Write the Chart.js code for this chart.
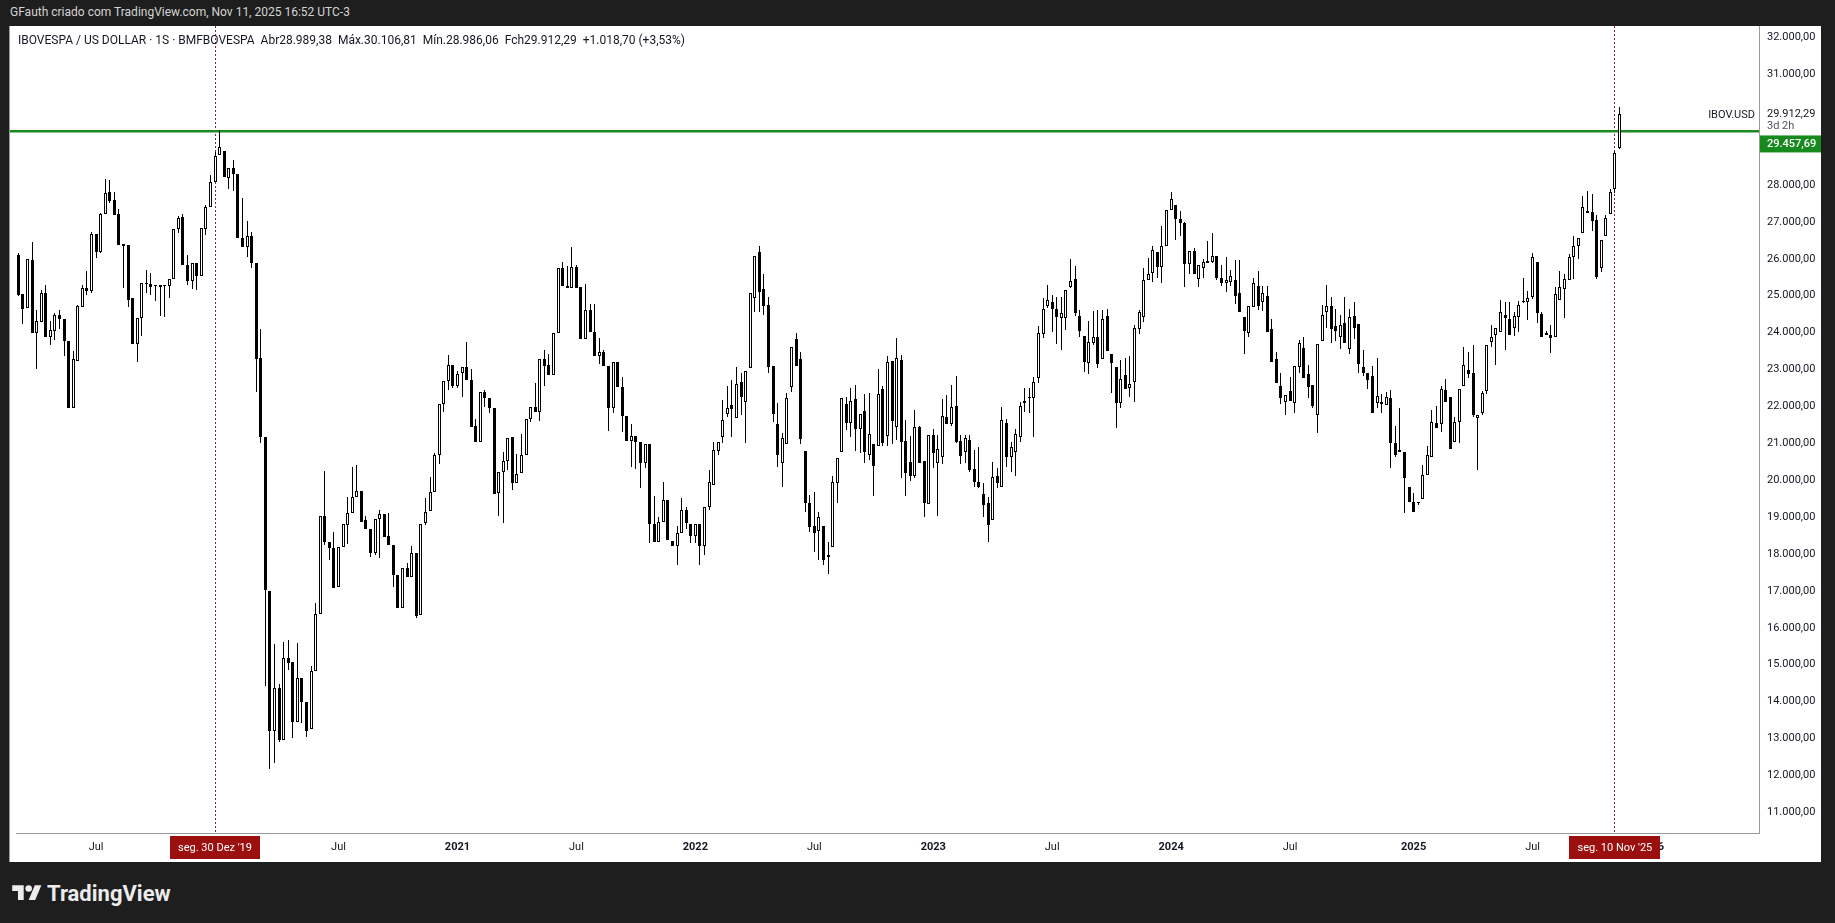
<!DOCTYPE html>
<html><head><meta charset="utf-8">
<script src="https://cdn.jsdelivr.net/npm/chart.js@4.4.1/dist/chart.umd.min.js"></script>
<style>
html,body{margin:0;padding:0;background:#1e1e1e;width:1835px;height:923px;overflow:hidden;font-family:Roboto,"Liberation Sans",sans-serif;}
#top{position:absolute;left:10px;top:5px;color:#d4d4d4;font-size:12px;white-space:pre;}
#wrap{position:absolute;left:9px;top:26px;width:1811px;height:836px;background:#fff;border-left:1px solid #9a9a9a;}
#hdr{position:absolute;left:18px;top:33px;font-size:12px;color:#131722;white-space:pre;}
#logo{position:absolute;left:12px;top:881px;height:24px;display:flex;align-items:center;color:#ececec;font-weight:bold;font-size:22px;}
#logo svg{margin-right:5px;}
canvas{display:block;}
</style></head>
<body>
<div id="top">GFauth criado com TradingView.com, Nov 11, 2025 16:52 UTC-3</div>
<div id="wrap"><canvas id="c" width="1811" height="836"></canvas></div>
<div id="hdr">IBOVESPA / US DOLLAR · 1S · BMFBOVESPA  Abr28.989,38  Máx.30.106,81  Mín.28.986,06  Fch29.912,29  +1.018,70 (+3,53%)</div>
<div id="logo"><svg width="30" height="23" viewBox="0 0 36 28"><path d="M14 22H7V11H0V4h14v18z" fill="#ececec"/><circle cx="20" cy="8" r="4" fill="#ececec"/><path d="M28 22h-8l7.5-18h8L28 22z" fill="#ececec"/></svg>TradingView</div>
<script>
// ---- data (weekly candles from 2019-03-04 to 2025-11-10) ----
const firstWeek = '2019-03-04';
const totalWeeks = 381; // includes empty future weeks on the right
const opens = [
26103,25046,24657,25967,23980,24296,25064,23890,24052,24477,
24359,23772,21947,23239,24703,25217,25136,26663,26193,27205,
27801,27593,27214,26401,26365,24928,23682,24386,25335,25308,
25290,25226,25272,25262,25443,26798,27126,25843,25404,25888,
25539,26811,27396,28072,28804,28928,28196,28466,28308,26563,
26316,26608,25888,23299,21160,16994,13211,14371,12964,15193,
15069,13448,14652,13977,13245,14821,16364,19043,18334,18176,
17097,18181,18777,19102,19536,19708,18922,18669,18036,18940,
19084,18488,18244,17431,16528,17612,17386,18018,16338,18831,
19174,19690,20683,22056,22697,23122,22562,22896,23059,22715,
21469,21044,22381,22219,21966,19645,20214,20530,21162,19915,
20187,20683,21650,21993,21840,23276,23122,22851,23998,25742,
25272,25200,25769,25227,23827,24604,24025,23366,23465,23095,
21948,23194,22517,21749,21063,21207,21027,20457,20973,18813,
18335,18877,19464,18354,18217,18560,19193,18804,18488,18804,
18217,19283,19870,20792,21180,21785,22038,21677,22652,22128,
23032,24929,26193,25173,24748,23095,21523,20474,20981,22517,
23818,23276,20791,19373,18768,18623,18759,17973,18181,19915,
20774,22065,21541,22192,21379,21875,20683,20973,20936,22472,
21207,23230,21451,23258,21063,20484,20123,21451,20521,19355,
21225,20475,20620,21722,21514,22011,21063,20774,21090,20304,
19943,19627,19373,18922,20114,19825,21541,20620,20773,21180,
22147,22237,22219,22761,23953,24730,24838,24630,24405,24387,
25245,25443,24450,23908,23185,23727,23872,23276,24450,23411,
23059,22083,22851,22490,22670,24089,24432,25425,25624,26193,
25769,26347,27322,27458,27069,26961,25859,26211,25453,25742,
25940,25922,26076,25489,25353,25380,25425,25064,24432,23980,
24703,25263,24838,24992,24089,23276,22553,22110,22426,22101,
23059,23574,22878,22580,21767,23772,24549,24721,24179,23890,
24251,23556,24450,24233,23059,22914,22824,22083,22065,22038,
22237,21017,20810,20773,19807,19418,19373,19482,20141,20620,
21559,21514,22445,22264,21044,21568,22562,22986,22914,21677,
21830,22426,23754,23935,24025,24477,24360,24116,24432,24820,
24820,24974,25922,24504,23935,23935,23890,24883,25173,25425,
26058,26347,26708,27305,27277,27052,25742,26627,27205,27892,28989.38];
const highs = [
26166,25046,25985,26464,24612,25154,25290,24314,24540,24612,
24359,23772,23501,24748,25290,25678,26735,26663,27232,28153,
28135,27801,27340,26401,26365,24928,24386,25335,25696,25606,
25290,25290,25290,25443,26798,27160,27205,26113,25888,25888,
26845,27453,28275,28894,29480,28928,28466,28669,28308,27655,
27014,26721,25888,24087,21160,16994,15553,14484,15609,15666,
15069,15576,14652,13977,14968,16679,19043,20259,18334,18606,
18181,18813,19536,20367,20412,19708,19030,18669,18940,19193,
19084,19120,18244,17431,17612,17765,18217,18018,18813,19509,
20096,20728,22056,22697,23393,23122,22968,23059,23754,23004,
21650,22381,22444,22219,21966,20214,20755,21135,21162,20701,
21243,21650,21993,22625,23276,23528,23420,23998,25742,25904,
25814,26329,25832,25227,25308,24775,24775,23863,23528,23095,
23194,23194,22788,21749,21514,21207,21027,20973,20973,19572,
19012,19942,19464,18354,18768,19527,19283,18804,18804,18804,
19283,20277,21044,21044,22174,22562,22716,23059,22914,22959,
25082,26076,26347,25588,24956,23095,22101,21270,22354,23601,
23980,23483,20791,19599,19690,19147,18759,18335,20114,20593,
22219,22264,22490,22580,21785,22336,22354,20973,23006,22553,
23366,23230,23845,23393,21632,21198,21903,21469,20521,21225,
21379,21225,22201,22309,22580,22824,21225,21225,21225,20819,
20891,19915,19536,20502,20322,21993,21650,21044,21379,22128,
22490,22490,22806,24179,24929,25290,25019,24973,24956,25154,
25985,25805,24612,23908,24314,24594,24612,24612,24630,23411,
23059,23257,23303,23366,24206,24612,25742,26013,26347,26193,
26889,27322,27801,27458,27304,27006,26220,26284,25823,25994,
26482,26708,26076,25832,26040,25696,25968,25968,24432,24721,
25471,25678,25263,25263,24360,23483,22914,22309,22806,23095,
23800,23872,23122,22580,23682,24748,25290,24974,24630,24477,
24974,24630,24838,24233,23528,22914,23095,23303,22327,22400,
22445,21469,21947,20773,19807,19644,19418,20412,20927,21902,
22011,22553,22734,22264,21722,22471,23601,23483,23664,21767,
22426,23664,24206,24134,24883,24820,24838,24568,24865,25471,
25127,26148,25922,24568,24052,24206,25245,25670,25579,26130,
26627,26555,27702,27837,27747,27187,26510,27187,27892,28921,30106.81];
const lows = [
25000,24224,24657,23980,23004,24296,23890,23664,23799,24088,
23366,21947,21947,23239,24703,25019,25082,26030,26166,27205,
27521,27187,26383,25199,24685,23682,23212,23916,25064,25019,
24865,24450,24414,24946,25443,26690,25843,25291,25179,25156,
25539,26642,27396,28072,28804,28218,27903,27824,26563,26316,
26046,25764,22387,21014,14427,12176,12344,12907,12964,14855,
13020,13448,13414,13054,13245,14821,16364,18255,17827,17073,
17097,18181,18271,19102,19536,18877,18669,17910,17973,17890,
18470,18244,17115,16528,16528,17386,17386,16257,16338,18790,
19174,19690,20439,21857,22444,22490,22490,22246,22715,21451,
21044,21044,21993,21812,19617,19039,18831,20277,19735,19915,
20187,20683,21568,21840,21613,22562,22851,22851,23998,25272,
25200,25200,25200,23827,23827,24025,23366,23140,23095,21343,
21830,22517,21315,21063,20349,20295,19780,20322,18289,18335,
18335,18877,18380,18217,17702,18560,18669,18290,18290,17702,
17973,19193,19870,20683,20999,21722,21162,21677,21767,20999,
23032,24549,24567,24477,22914,21586,20367,19825,20981,22381,
23095,20972,19148,18587,18063,17837,17700,17450,18181,19373,
20774,21361,21162,20792,20747,20457,20548,19581,20936,20927,
20936,20972,21090,20069,19581,19978,20051,20475,19012,19355,
20322,19030,20439,21514,21469,20999,20439,20457,20231,19807,
19780,18994,18334,18922,19780,19825,20367,20231,20123,21044,
21857,21812,21180,22643,23845,24657,24007,23682,23528,24070,
25218,24459,23872,22923,22878,23664,23032,23276,23511,22354,
21424,21948,22462,22264,22128,23962,24296,25425,25380,25471,
25353,26347,27322,26509,26618,25245,25588,25579,25227,25489,
25877,25877,25426,25263,25109,25263,24775,24567,23420,23872,
24703,24612,24595,24025,23212,22625,22065,21767,22155,21830,
22896,22761,22219,21948,21288,23772,24116,23727,23781,23556,
23727,23420,23826,22896,22824,22463,21812,21948,21830,22038,
20322,20620,20773,19102,19418,19147,19328,19482,20141,20620,
21424,21315,22128,20837,21044,20999,22562,22761,21704,20277,
21767,22336,23619,23122,24025,23529,23935,23917,24025,24793,
24342,24902,24269,23872,23935,23438,23890,24883,24387,25425,
25453,25986,26708,27232,26753,25444,25651,26627,27205,27792,28986.06];
const closes = [
25019,24630,25985,23980,24314,25064,23890,24070,24477,24359,
23781,21947,23275,24721,25199,25136,26663,26193,27214,27774,
27575,27187,26383,26347,24883,23682,24386,25335,25308,25244,
25272,25290,25262,25443,26798,27096,25843,25404,25888,25539,
26845,27396,28072,28781,29018,28218,28466,28297,26563,26316,
26620,25888,23288,21160,17016,13211,14371,12964,15193,15047,
13448,14652,13977,13211,14821,16364,19043,18334,18176,17073,
18181,18813,19102,19536,19708,18877,18669,18036,18940,19084,
18470,18244,17431,16528,17612,17386,18018,16320,18813,19147,
19690,20683,22056,22697,23122,22562,22878,23059,22715,21451,
21044,22381,22219,21966,19617,20214,20530,21135,19915,20160,
20683,21650,21993,21840,23276,23095,22851,23998,25742,25272,
25200,25769,25200,23827,24604,24025,23366,23465,23095,21948,
23194,22517,21749,21063,21207,21045,20457,20973,18804,18335,
18877,19464,18380,18217,18560,19193,18831,18488,18804,18217,
19283,19942,20819,21044,21632,21948,21921,22598,22264,22959,
25082,26076,25109,24721,23077,21785,20683,21134,22219,23601,
23095,21117,19373,18740,18560,19012,17837,17928,19960,20593,
22219,21541,22146,21379,21785,20774,21243,20394,22327,21018,
23194,21614,23303,21044,20204,20123,21433,20475,19373,21225,
20728,20836,21740,21514,21975,21044,20665,21135,20276,19961,
19825,19328,18786,20078,19934,21632,20620,20909,21252,22011,
22101,22255,22670,23980,24630,24883,24630,24414,24540,25154,
25398,24522,24052,23212,23736,23872,23140,24359,23511,23185,
22101,22734,22462,22607,24116,24549,25425,25579,26238,25769,
26347,27322,27612,27069,26961,25859,26220,25579,25823,25922,
25877,26076,25489,25335,25425,25534,25001,24567,24053,24721,
25335,24721,25082,24025,23212,22625,22219,22309,22155,23095,
23709,22761,22535,22020,23682,24477,24721,24097,24052,24206,
23727,24432,24115,23140,22896,22716,21812,22282,22110,22264,
21017,20683,20775,20069,19418,19147,19418,20141,20683,21586,
21424,22463,22128,20837,21586,22471,23122,22869,21767,21767,
22354,23664,23890,24134,24568,24387,23935,24450,24748,24838,
24929,26040,24522,23872,23980,23845,25046,25245,25444,26040,
26347,26555,27395,27232,27024,25516,26510,27115,27801,28876,29912.29];
const yTickValues = [11000,12000,13000,14000,15000,16000,17000,18000,19000,20000,21000,22000,23000,24000,25000,26000,27000,28000,31000,32000];
const hLineValue = 29457.69;
const lastPrice = 29912.29;
const markers = [{week:'2019-12-30', text:"seg. 30 Dez '19"}, {week:'2025-11-10', text:"seg. 10 Nov '25"}];

// ---- categories ----
const weeks = [];
{ const d0 = new Date(firstWeek + 'T00:00:00Z');
  for (let i = 0; i < totalWeeks; i++) { const d = new Date(d0.getTime() + i*7*86400000); weeks.push(d.toISOString().slice(0,10)); } }

function fmt(v){ const s = v.toFixed(2); let [a,b] = s.split('.'); a = a.replace(/\B(?=(\d{3})+(?!\d))/g,'.'); return a + ',' + b; }
function tickKind(i){ const w = weeks[i]; if(!w) return null; const m = +w.slice(5,7), d = +w.slice(8,10); if (d > 7) return null; if (m === 1) return 'year'; if (m === 7) return 'jul'; return null; }

const FONT = 'Roboto, "Liberation Sans", sans-serif';

const overlay = {
  id: 'overlay',
  beforeDatasetsDraw(chart){
    const {ctx, chartArea:a, scales:{x,y}} = chart;
    // snap candle elements to whole pixels for crisp edges
    chart.data.datasets.forEach((ds, i) => {
      const odd = (ds.barThickness % 2) === 1;
      chart.getDatasetMeta(i).data.forEach(el => {
        el.x = Math.floor(el.x) + (odd ? 0.5 : 0);
        el.y = Math.round(el.y); el.base = Math.round(el.base);
      });
    });
    ctx.save();
    // dotted vertical markers
    ctx.strokeStyle = '#7d2a2a'; ctx.lineWidth = 1; ctx.setLineDash([2,2]);
    markers.forEach(m => { const px = Math.floor(x.getPixelForValue(weeks.indexOf(m.week))) + 0.5; ctx.beginPath(); ctx.moveTo(px, a.top); ctx.lineTo(px, a.bottom); ctx.stroke(); });
    ctx.setLineDash([]);
    // green horizontal line
    const gy = y.getPixelForValue(hLineValue);
    ctx.strokeStyle = '#1a8a22'; ctx.lineWidth = 2.5;
    ctx.beginPath(); ctx.moveTo(0, gy); ctx.lineTo(a.right, gy); ctx.stroke();
    ctx.restore();
  },
  afterDraw(chart){
    const {ctx, chartArea:a, scales:{x,y}} = chart;
    const W = chart.width;
    ctx.save();
    ctx.font = '11px ' + FONT; ctx.textBaseline = 'middle';
    // date markers on time axis
    markers.forEach(m => {
      const px = x.getPixelForValue(weeks.indexOf(m.week));
      const tw = ctx.measureText(m.text).width + 16;
      ctx.fillStyle = '#9c0f0f';
      ctx.fillRect(Math.round(px - tw/2), a.bottom + 3, Math.round(tw), 23);
      ctx.fillStyle = '#ffffff'; ctx.textAlign = 'center';
      ctx.fillText(m.text, px, a.bottom + 15);
    });
    // last price label
    const ly = y.getPixelForValue(lastPrice);
    ctx.textAlign = 'left'; ctx.fillStyle = '#131722';
    ctx.fillText(fmt(lastPrice), a.right + 8, ly);
    ctx.fillStyle = '#50535e'; ctx.fillText('3d 2h', a.right + 8, ly + 12);
    ctx.fillStyle = '#131722'; ctx.textAlign = 'right';
    ctx.fillText('IBOV.USD', a.right - 4, ly + 1);
    // green price box
    const by = ly + 29;
    ctx.fillStyle = '#178a1d';
    ctx.fillRect(a.right + 1, by - 8, W - a.right - 1, 17);
    ctx.fillStyle = '#ffffff'; ctx.textAlign = 'left'; ctx.font = '500 11px ' + FONT;
    ctx.fillText(fmt(hLineValue), a.right + 8, by + 1);
    ctx.restore();
  }
};

new Chart(document.getElementById('c'), {
  type: 'bar',
  data: {
    labels: weeks,
    datasets: [
      { label:'body', data: opens.map((o,i) => [o, closes[i]]),
        backgroundColor: c => closes[c.dataIndex] >= opens[c.dataIndex] ? '#ffffff' : '#000000',
        borderColor:'#000000', borderWidth:1, borderSkipped:false, inflateAmount:0,
        barThickness:3, grouped:false, minBarLength:1, order:1 },
      { label:'wick', data: lows.map((l,i) => [l, highs[i]]),
        backgroundColor:'#000000', borderWidth:0, inflateAmount:0,
        barThickness:1, grouped:false, order:2 }
    ]
  },
  options: {
    responsive:false, animation:false, devicePixelRatio:1,
    layout:{padding:{left:6, right:0, top:0, bottom:0}, autoPadding:false},
    plugins:{legend:{display:false}, tooltip:{enabled:false}},
    scales:{
      x:{ type:'category', offset:true,
          grid:{display:false, drawTicks:false},
          border:{display:true, color:'#9a9a9a'},
          afterFit: s => { s.height = 29; s.paddingLeft = 0; s.paddingRight = 0; s.paddingTop = 0; s.paddingBottom = 0; },
          ticks:{ autoSkip:false, maxRotation:0, minRotation:0, padding:8, color:'#131722',
            font: c => ({family:FONT, size:11, weight: tickKind(c.index) === 'year' ? 'bold' : 'normal'}),
            callback: (v, i) => { const k = tickKind(i); return k === 'year' ? weeks[i].slice(0,4) : (k === 'jul' ? 'Jul' : ''); } } },
      y:{ position:'right', min:10439, max:32309,
          grid:{display:false, drawTicks:false},
          border:{display:true, color:'#9a9a9a'},
          afterFit: s => { s.width = 62; s.paddingTop = 0; s.paddingBottom = 0; s.paddingLeft = 0; s.paddingRight = 0; },
          afterBuildTicks: s => { s.ticks = yTickValues.map(v => ({value:v})); },
          ticks:{ padding:8, color:'#131722', font:{family:FONT, size:11}, callback: v => fmt(v) } }
    }
  },
  plugins:[overlay]
});
</script>
</body></html>
